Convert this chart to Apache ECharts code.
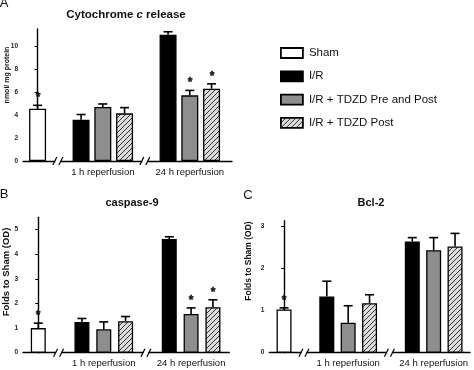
<!DOCTYPE html>
<html><head><meta charset="utf-8">
<script src="https://cdn.jsdelivr.net/npm/echarts@6/dist/echarts.min.js"></script>
<style>html,body{margin:0;padding:0;background:#fff}#c{width:474px;height:370px}</style>
</head><body><div id="c"></div>
<script>
// ---- data ----
const slots = ['Sham', '', 'I/R 1h', 'Pre and Post 1h', 'Post 1h', '', 'I/R 24h', 'Pre and Post 24h', 'Post 24h'];
const seriesNames = ['Sham', 'I/R', 'I/R + TDZD Pre and Post', 'I/R + TDZD Post'];
const slotSeries = [0, null, 1, 2, 3, null, 1, 2, 3];
const groupLabels = ['1 h reperfusion', '24 h reperfusion'];
const groupLabelSlots = [3, 7];
const breakSlots = [1, 5];

const cytoMean = [4.55, null, 3.6, 4.7, 4.15, null, 11.0, 5.72, 6.3];
const cytoErr  = [0.3, null, 0.45, 0.27, 0.5, null, 0.26, 0.43, 0.42];
const cytoStar = [1, 0, 0, 0, 0, 0, 0, 1, 1];
const cytoTicks = [0, 2, 4, 6, 8, 10];

const caspMean = [1.0, null, 1.25, 0.95, 1.28, null, 4.62, 1.57, 1.85];
const caspErr  = [0.2, null, 0.14, 0.3, 0.19, null, 0.09, 0.25, 0.3];
const caspStar = [1, 0, 0, 0, 0, 0, 0, 1, 1];
const caspTicks = [0, 1, 2, 3, 4, 5];

const bclMean = [1.02, null, 1.33, 0.71, 1.17, null, 2.63, 2.42, 2.51];
const bclErr  = [0.04, null, 0.36, 0.4, 0.2, null, 0.09, 0.3, 0.31];
const bclStar = [1, 0, 0, 0, 0, 0, 0, 0, 0];
const bclTicks = [0, 1, 2, 3];

// ---- styling / layout ----
const FONT = "'Liberation Sans', Arial, sans-serif";
function hatch(size) {
  const c = document.createElement('canvas'); c.width = c.height = size;
  const g = c.getContext('2d');
  g.fillStyle = '#dcdcdc'; g.fillRect(0, 0, size, size);
  g.strokeStyle = '#333'; g.lineWidth = 1;
  g.beginPath();
  g.moveTo(0, size); g.lineTo(size, 0);
  g.moveTo(-1, 1); g.lineTo(1, -1);
  g.moveTo(size - 1, size + 1); g.lineTo(size + 1, size - 1);
  g.stroke();
  return c;
}
const fills = ['#ffffff', '#000000', '#8e8e8e', { image: hatch(5), repeat: 'repeat' }];

const panels = [
  { mean: cytoMean, err: cytoErr, star: cytoStar, ticks: cytoTicks, ymax: 11.5, yint: 2,
    grid: { left: 23, top: 29, width: 209, height: 132 }, xmin: -0.67, xmax: 8.94, barW: 17 },
  { mean: caspMean, err: caspErr, star: caspStar, ticks: caspTicks, ymax: 5.5, yint: 1,
    grid: { left: 23, top: 217.3, width: 206.3, height: 135.4 }, xmin: -0.7, xmax: 8.75, barW: 15 },
  { mean: bclMean, err: bclErr, star: bclStar, ticks: bclTicks, ymax: 3.12, yint: 1,
    grid: { left: 269.3, top: 220.7, width: 200.7, height: 132 }, xmin: -0.69, xmax: 8.7, barW: 15 }
];

const grids = [], xAxes = [], yAxes = [], series = [];
panels.forEach((p, i) => {
  grids.push(Object.assign({ containLabel: false, outerBoundsMode: 'none' }, p.grid));
  xAxes.push({
    type: 'value', gridIndex: i, min: p.xmin, max: p.xmax,
    axisLine: { show: true, onZero: false, lineStyle: { color: '#000', width: 1.4 } },
    axisTick: { show: false }, splitLine: { show: false },
    axisLabel: {
      customValues: groupLabelSlots, margin: 6, fontSize: 9.5, color: '#111', fontFamily: FONT,
      formatter: v => { const k = groupLabelSlots.indexOf(v); return k < 0 ? '' : groupLabels[k]; }
    }
  });
  yAxes.push({
    type: 'value', gridIndex: i, min: 0, max: p.ymax, interval: p.yint,
    axisLine: { show: true, lineStyle: { color: '#000', width: 1.4 } },
    axisTick: { show: true, length: 3, customValues: p.ticks, lineStyle: { color: '#000', width: 1 } },
    splitLine: { show: false },
    axisLabel: { customValues: p.ticks, margin: 5, fontSize: 6.5, fontWeight: 'bold', color: '#222', fontFamily: FONT }
  });
  seriesNames.forEach((name, k) => {
    series.push({
      type: 'bar', name, xAxisIndex: i, yAxisIndex: i, barWidth: p.barW, barGap: '-100%',
      silent: true, animation: false, z: 2,
      itemStyle: { color: fills[k], borderColor: '#000', borderWidth: 1.3 },
      data: p.mean.map((v, j) => slotSeries[j] === k ? [j, v] : null).filter(Boolean)
    });
  });
  series.push({
    type: 'custom', xAxisIndex: i, yAxisIndex: i, silent: true, animation: false, z: 3,
    encode: { x: 0, y: 1 },
    data: p.mean.map((v, j) => v == null ? null : [j, v, p.err[j]]).filter(Boolean),
    renderItem: (params, api) => {
      const x = api.value(0), m = api.value(1), e = api.value(2);
      const p0 = api.coord([x, m]), p1 = api.coord([x, m + e]);
      return { type: 'group', children: [
        { type: 'line', shape: { x1: p0[0], y1: p0[1], x2: p1[0], y2: p1[1] }, style: { stroke: '#000', lineWidth: 1.6 } },
        { type: 'line', shape: { x1: p1[0] - 4.5, y1: p1[1], x2: p1[0] + 4.5, y2: p1[1] }, style: { stroke: '#000', lineWidth: 1.6 } }
      ] };
    }
  });
});

const chart = echarts.init(document.getElementById('c'), null, { renderer: 'canvas' });
chart.setOption({
  animation: false,
  backgroundColor: '#fff',
  grid: grids, xAxis: xAxes, yAxis: yAxes, series,
  legend: {
    data: seriesNames, orient: 'vertical', left: 280, top: 47, padding: 0, itemWidth: 22, itemHeight: 10, itemGap: 11.3,
    selectedMode: false, icon: 'rect', itemStyle: { borderWidth: 1.8, borderColor: '#000' },
    textStyle: { fontSize: 11.5, color: '#111', fontFamily: FONT, padding: [0, 0, 0, 1] }
  }
});

const gfx = [];
function txt(x, y, text, font, rot) {
  gfx.push({ type: 'text', x, y, rotation: rot || 0, z: 100,
    style: { text, font, fill: '#111', textAlign: 'center', textVerticalAlign: 'middle' } });
}
txt(4, 3, 'A', '13px ' + FONT);
txt(4, 194, 'B', '13px ' + FONT);
txt(248, 195, 'C', '13px ' + FONT);
gfx.push({ type: 'text', x: 126, y: 15, z: 100, style: {
  text: '{b|Cytochrome }{i|c}{b| release}', textAlign: 'center', textVerticalAlign: 'middle', fill: '#111',
  rich: { b: { font: 'bold 11.5px ' + FONT, fill: '#111' }, i: { font: 'italic bold 11.5px ' + FONT, fill: '#111' } } } });
txt(132, 203, 'caspase-9', 'bold 11px ' + FONT);
txt(371, 203, 'Bcl-2', 'bold 11px ' + FONT);
txt(7, 75, 'nmol/ mg protein', "bold 7px 'Liberation Sans Narrow', " + FONT, Math.PI / 2);
txt(6, 272, 'Folds to Sham (OD)', 'bold 9.5px ' + FONT, Math.PI / 2);
txt(249, 261, 'Folds to Sham (OD)', 'bold 8.5px ' + FONT, Math.PI / 2);

panels.forEach((p, i) => {
  const finder = { xAxisIndex: i, yAxisIndex: i };
  breakSlots.forEach(s => {
    const pt = chart.convertToPixel(finder, [s, 0]);
    const x = pt[0] - 1.5, y = pt[1];
    gfx.push({ type: 'rect', z: 100, shape: { x: x - 2.5, y: y - 2, width: 5, height: 4 }, style: { fill: '#fff' } });
    gfx.push({ type: 'line', z: 101, shape: { x1: x - 5, y1: y + 4, x2: x - 1, y2: y - 4 }, style: { stroke: '#000', lineWidth: 1.2 } });
    gfx.push({ type: 'line', z: 101, shape: { x1: x + 1, y1: y + 4, x2: x + 5, y2: y - 4 }, style: { stroke: '#000', lineWidth: 1.2 } });
  });
  p.mean.forEach((v, j) => {
    if (!p.star[j]) return;
    const pt = chart.convertToPixel(finder, [j, v + p.err[j]]);
    gfx.push({ type: 'text', x: Math.round(pt[0]), y: Math.round(pt[1]) - 1, z: 102,
      style: { text: '*', font: 'bold 12px ' + FONT, fill: '#111', stroke: '#111', lineWidth: 0.4, textAlign: 'center', textVerticalAlign: 'bottom' } });
  });
});
chart.setOption({ graphic: gfx });
</script>
</body></html>
